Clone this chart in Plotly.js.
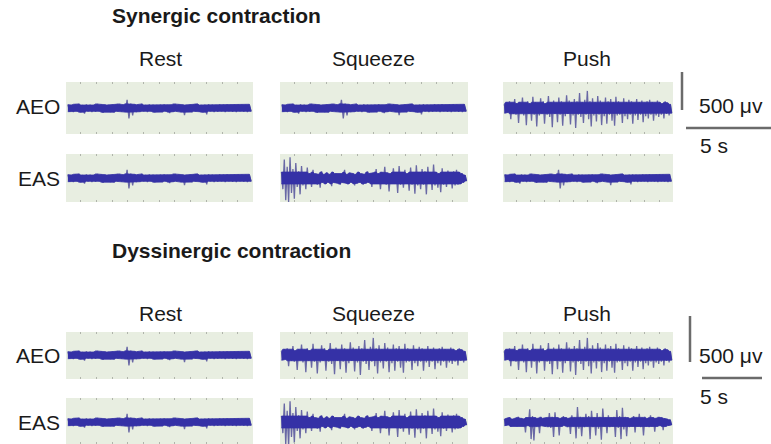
<!DOCTYPE html>
<html><head><meta charset="utf-8">
<script src="https://cdn.plot.ly/plotly-3.0.1.min.js"></script>
<style>html,body{margin:0;padding:0;background:#fff}#chart{width:771px;height:444px}</style>
</head><body><div id="chart"></div>
<script>
// ---- Data (amplitudes in µV) ----
const sections = ["Synergic contraction", "Dyssinergic contraction"];
const phases = ["Rest", "Squeeze", "Push"];
const muscles = ["AEO", "EAS"];
const scaleLabels = ["500 μv", "5 s"];

const restSignal = [45,-50,40,-55,50,-45,55,-60,40,-75,50,-45,45,-55,40,-50,55,-45,50,-65,
 45,-50,40,-55,45,-60,50,-45,55,-50,45,-55,110,-140,60,-100,50,-55,45,-50,
 55,-45,40,-55,50,-45,45,-60,40,-50,45,-55,50,-45,40,-70,45,-50,55,-45,
 50,-55,45,-95,40,-50,45,-55,50,-45,55,-50,40,-60,45,-85,50,-45,45,-55,
 40,-50,50,-45,45,-55,50,-45,40,-50,45,-55,50,-45,45,-50,40,-55,50,-45];

const aeoActive = [50,-70,80,-60,90,-150,70,-80,120,-90,
 60,-200,80,-70,140,-100,70,-230,90,-80,
 60,-170,150,-90,80,-250,70,-100,130,-80,
 90,-210,60,-90,160,-120,80,-260,100,-80,
 70,-190,140,-90,90,-240,70,-110,170,-80,
 100,-220,80,-100,120,-270,90,-90,200,-120,
 80,-200,110,-90,230,-150,90,-250,130,-100,
 80,-180,160,-90,100,-230,70,-110,140,-210,
 90,-90,120,-170,80,-240,150,-100,90,-90,
 70,-200,130,-110,80,-150,110,-90,90,-210,
 70,-100,120,-160,80,-90,100,-190,70,-110,
 90,-140,110,-90,80,-170,70,-100,100,-120,
 80,-90,60,-140,90,-80,70,-100,50,-70];

const easSqueeze = [80,-150,250,-300,150,-330,280,-200,120,-280,
 200,-120,90,-220,160,-100,70,-150,140,-80,
 60,-120,110,-70,60,-90,50,-130,90,-60,
 50,-80,70,-60,50,-110,80,-60,60,-70,
 50,-90,60,-60,110,-70,50,-80,70,-60,
 60,-100,50,-70,80,-60,60,-90,50,-70,
 90,-60,60,-120,70,-70,120,-80,60,-150,
 80,-70,150,-90,70,-180,60,-80,130,-70,
 80,-200,160,-90,70,-130,110,-80,60,-170,
 140,-90,80,-210,170,-100,70,-150,120,-90,
 90,-220,150,-80,70,-160,180,-100,80,-130,
 60,-190,130,-90,80,-120,100,-80,70,-140,
 90,-100,110,-90,80,-80,60,-60,40,-40];

const easPushDys = [40,-50,50,-40,60,-60,40,-50,50,-60,
 70,-50,50,-60,40,-140,60,-50,170,-230,
 80,-250,60,-60,50,-150,70,-50,50,-60,
 60,-70,120,-80,70,-200,130,-60,60,-180,
 50,-60,80,-50,60,-70,50,-160,90,-60,
 60,-220,200,-90,70,-190,60,-70,110,-60,
 80,-230,150,-70,60,-180,120,-90,70,-240,
 180,-60,60,-150,90,-70,60,-60,70,-200,
 160,-80,80,-230,190,-100,70,-190,60,-70,
 50,-60,80,-140,60,-60,110,-70,60,-180,
 70,-60,50,-70,90,-60,60,-130,50,-60,
 70,-50,60,-110,50,-60,40,-50,30,-40];

// panel grid: rows = [syn AEO, syn EAS, dys AEO, dys EAS], cols = phases
const panelSignals = [
  [restSignal, restSignal, aeoActive],
  [restSignal, easSqueeze, restSignal],
  [restSignal, aeoActive, aeoActive],
  [restSignal, easSqueeze, easPushDys]
];

// ---- Styling / geometry ----
const W = 771, H = 444;
const colPx = [[66,253],[280,468],[503,673]];
const rowPx = [[82,134,108],[154,202,178],[332,379,355],[398,444,422]];
const k = 52/700; // px per µV
const fx = p => p/W, fy = p => 1 - p/H;
// visual thickness of the dense dark core of each trace (µV)
function coreLevel(sig){ return sig === restSignal ? 56 : sig === aeoActive ? 78 : sig === easSqueeze ? 80 : 62; }

const data = [];
const layout = {
  width: W, height: H, margin:{l:0,r:0,t:0,b:0},
  paper_bgcolor:'#ffffff', plot_bgcolor:'#e8eee1',
  showlegend:false, annotations:[], shapes:[]
};
const CORE = '#3531a6';
let n = 0;
for (let r = 0; r < 4; r++) {
  for (let c = 0; c < 3; c++) {
    n++;
    const sig = panelSignals[r][c];
    const N = sig.length;
    const xs = sig.map((_, i) => i);
    const xa = 'x' + (n === 1 ? '' : n), ya = 'y' + (n === 1 ? '' : n);
    const cl = coreLevel(sig);
    const clip = sig.map(v => Math.max(-cl, Math.min(cl, v)));
    const win = i => [clip[i], clip[Math.min(N-1,i+1)]];
    const upper = xs.map(i => Math.max(...win(i)));
    const lower = xs.map(i => Math.min(...win(i)));
    // full signal (spikes)
    data.push({type:'scatter', mode:'lines', x:xs, y:sig, xaxis:xa, yaxis:ya,
      line:{color:'rgba(72,70,150,0.8)', width:1.3}, hoverinfo:'skip'});
    // dense core band (envelope of the clipped signal)
    data.push({type:'scatter', mode:'lines', x:xs, y:lower, xaxis:xa, yaxis:ya,
      line:{color:CORE, width:0.8}, hoverinfo:'skip'});
    data.push({type:'scatter', mode:'lines', x:xs, y:upper, xaxis:xa, yaxis:ya,
      fill:'tonexty', fillcolor:CORE, line:{color:CORE, width:0.8}, hoverinfo:'skip'});
    const [top,bot,cen] = rowPx[r];
    const [l,rr] = colPx[c];
    layout['xaxis' + (n === 1 ? '' : n)] = {
      domain:[fx(l), fx(rr)], anchor:ya, range:[-1, N], fixedrange:true,
      showgrid:false, zeroline:false, showticklabels:false, showline:false,
      ticks:'inside', ticklen:2, tickwidth:1, tickcolor:'#b0b4ab', mirror:'ticks',
      tick0: N*0.07, dtick: N/11.8
    };
    layout['yaxis' + (n === 1 ? '' : n)] = {
      domain:[fy(bot), fy(top)], anchor:xa,
      range:[-(bot-cen)/k, (cen-top)/k], fixedrange:true,
      showgrid:false, zeroline:false, showticklabels:false, showline:false, ticks:''
    };
  }
}

const font = {family:'Liberation Sans, Arial, sans-serif', size:21, color:'#1a1a1a'};
const bold = {family:'Liberation Sans, Arial, sans-serif', size:21, color:'#1a1a1a', weight:'bold'};
function ann(text, x, y, xanchor, f) {
  layout.annotations.push({text:text, xref:'paper', yref:'paper', x:fx(x), y:fy(y),
    xanchor:xanchor, yanchor:'middle', showarrow:false, font:f || font});
}
ann('<b>' + sections[0] + '</b>', 110, 16, 'left', bold);
ann('<b>' + sections[1] + '</b>', 110, 250, 'left', bold);
const phaseX = [160, 373, 587];
phases.forEach((p, i) => { ann(p, phaseX[i], 59, 'center'); ann(p, phaseX[i], 313, 'center'); });
ann(muscles[0], 62, 107, 'right'); ann(muscles[1], 62, 178, 'right');
ann(muscles[0], 62, 355, 'right'); ann(muscles[1], 62, 422, 'right');
ann(scaleLabels[0], 697, 105, 'left'); ann(scaleLabels[1], 698, 145, 'left');
ann(scaleLabels[0], 697, 355, 'left'); ann(scaleLabels[1], 698, 396, 'left');
function seg(x0,y0,x1,y1){ layout.shapes.push({type:'line', xref:'paper', yref:'paper',
  x0:fx(x0), y0:fy(y0), x1:fx(x1), y1:fy(y1), line:{color:'#6b6b6b', width:2.5}}); }
seg(682,72,682,110); seg(686,128,771,128);
seg(690,316,690,362); seg(702,378,762,378);

Plotly.newPlot('chart', data, layout, {staticPlot:true, displayModeBar:false});
</script></body></html>
